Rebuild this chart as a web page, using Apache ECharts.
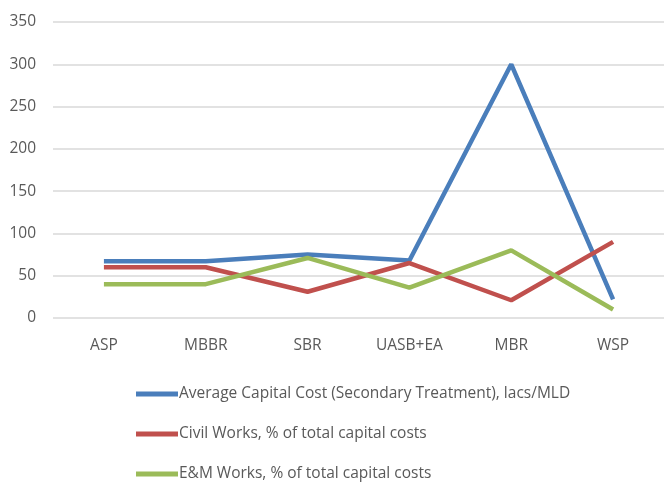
<!DOCTYPE html>
<html>
<head>
<meta charset="utf-8">
<script src="https://cdn.jsdelivr.net/npm/echarts@6/dist/echarts.min.js"></script>
<style>
  html, body { margin: 0; padding: 0; background: #fff; }
  #chart { width: 664px; height: 482px; }
</style>
</head>
<body>
<div id="chart"></div>
<script>
// categories and series
const processes = ['ASP', 'MBBR', 'SBR', 'UASB+EA', 'MBR', 'WSP']
const avgCapitalCost = [67, 67, 75, 68, 300, 22]
const civilWorks = [60, 60, 31, 65, 21, 90]
const emWorks = [40, 40, 71, 36, 80, 10]
const seriesNames = [
  'Average Capital Cost (Secondary Treatment), lacs/MLD',
  'Civil Works, % of total capital costs',
  'E&M Works, % of total capital costs'
]
const colors = ['#4a7ebb', '#c0504d', '#9bbb59']

const chart = echarts.init(document.getElementById('chart'))

/** build one line series */
function makeLine (name, data, color) {
  return {
    name: name,
    type: 'line',
    data: data,
    symbol: 'none',
    lineStyle: { width: 4.5, color: color },
    itemStyle: { color: color },
    animation: false
  }
}

/** one legend row per series, stacked below the plot */
function makeLegend (name, i) {
  return {
    left: 131,
    top: 381 + i * 40,
    itemWidth: 42,
    itemHeight: 5,
    icon: 'rect',
    textStyle: {
      fontSize: 15.5,
      color: '#595959',
      fontFamily: 'Open Sans',
      padding: [0, 0, 0, -4]
    },
    data: [name]
  }
}

const option = {
  animation: false,
  grid: {
    left: 53,
    top: 22,
    width: 624,
    height: 296
  },
  xAxis: {
    type: 'category',
    data: processes,
    boundaryGap: true,
    axisLine: { show: false },
    axisTick: { show: false },
    axisLabel: {
      margin: 20,
      fontSize: 15.5,
      color: '#595959',
      fontFamily: 'Open Sans'
    }
  },
  yAxis: {
    type: 'value',
    min: 0,
    max: 350,
    interval: 50,
    axisLine: { show: false },
    axisTick: { show: false },
    axisLabel: {
      margin: 17,
      fontSize: 15.5,
      color: '#595959',
      fontFamily: 'Open Sans'
    },
    splitLine: { lineStyle: { color: '#d9d9d9', width: 1.5 } }
  },
  legend: seriesNames.map(makeLegend),
  series: [
    makeLine(seriesNames[0], avgCapitalCost, colors[0]),
    makeLine(seriesNames[1], civilWorks, colors[1]),
    makeLine(seriesNames[2], emWorks, colors[2])
  ]
}
chart.setOption(option)
</script>
</body>
</html>
